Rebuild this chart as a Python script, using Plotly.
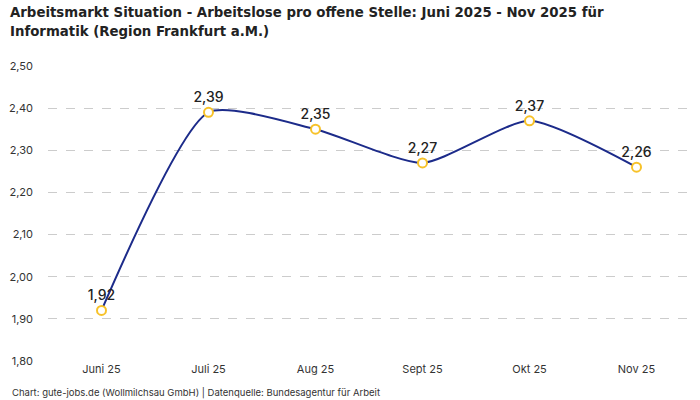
import plotly.graph_objects as go

# Arbeitslose pro offene Stelle, Informatik, Region Frankfurt a.M.
months = ["Juni 25", "Juli 25", "Aug 25", "Sept 25", "Okt 25", "Nov 25"]
ratio = [1.92, 2.39, 2.35, 2.27, 2.37, 2.26]
y_ticks = [1.8, 1.9, 2.0, 2.1, 2.2, 2.3, 2.4, 2.5]

labels = [f"{v:.2f}".replace(".", ",") for v in ratio]

title = ("<b>Arbeitsmarkt Situation - Arbeitslose pro offene Stelle: Juni 2025 - Nov 2025 für"
         "<br>Informatik (Region Frankfurt a.M.)</b>")
source = "Chart: gute-jobs.de (Wollmilchsau GmbH) | Datenquelle: Bundesagentur für Arbeit"

fig = go.Figure()
fig.add_trace(go.Scatter(
    x=months,
    y=ratio,
    mode="lines+markers+text",
    line=dict(color="#1c2b8a", width=2, shape="spline", smoothing=0.6),
    marker=dict(size=9, color="white", line=dict(color="#f7c229", width=2)),
    text=labels,
    textposition="top center",
    textfont=dict(family="Inter", size=14, color="#222222", weight=500),
    cliponaxis=False,
    hoverinfo="skip",
))

fig.update_layout(
    width=700,
    height=400,
    separators=",.",
    paper_bgcolor="white",
    plot_bgcolor="white",
    showlegend=False,
    margin=dict(l=48, r=10, t=66, b=39),
    font=dict(family="Inter", size=11, color="#333333"),
    xaxis=dict(
        range=[-0.5, 5.5],
        showgrid=False,
        showline=False,
        zeroline=False,
        ticks="",
        tickfont=dict(size=11, color="#333333"),
    ),
    yaxis=dict(
        range=[1.8, 2.5],
        tickvals=y_ticks,
        tickformat=".2f",
        showgrid=True,
        gridcolor="#cccccc",
        griddash="dash",
        gridwidth=1,
        zeroline=False,
        showline=False,
        ticks="",
        ticklabelstandoff=14,
        tickfont=dict(size=11, color="#333333"),
    ),
    annotations=[
        dict(
            text=title,
            xref="paper", yref="paper",
            x=-40 / 642, y=(361 - 1) / 295,
            xanchor="left", yanchor="top", align="left",
            showarrow=False,
            font=dict(family="DejaVu Sans Condensed, Roboto", size=14.8, color="#222222"),
        ),
        dict(
            text=source,
            xref="paper", yref="paper",
            x=-38 / 642, y=-(393 - 361) / 295,
            xanchor="left", yanchor="middle",
            showarrow=False,
            font=dict(size=9.5, color="#333333"),
        ),
    ],
)

fig.write_html("out.html", config={"displayModeBar": False},
               post_script="document.body.style.margin='0';")
